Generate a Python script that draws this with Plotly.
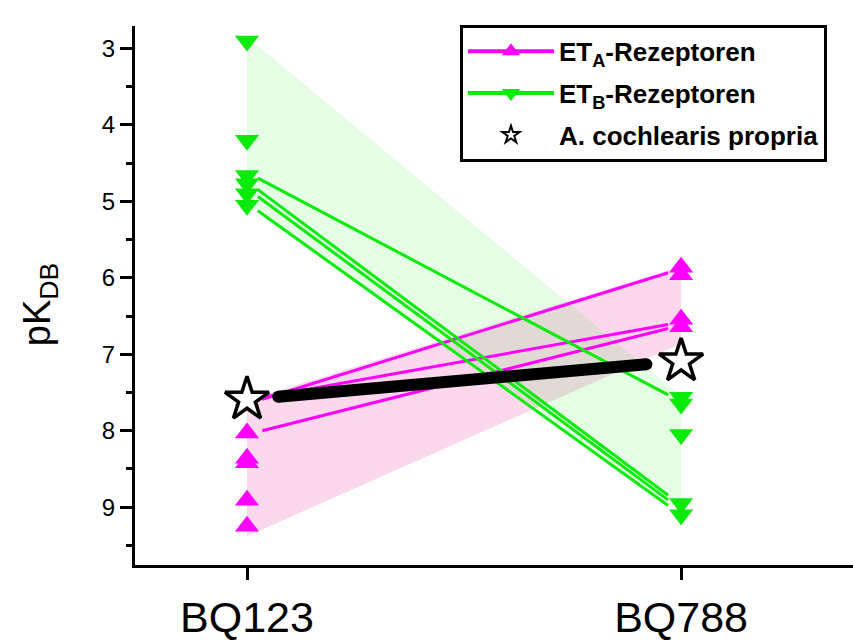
import plotly.graph_objects as go

# --- data -------------------------------------------------------------
categories = ["BQ123", "BQ788"]

# individual pK_DB values (markers)
eta_bq123 = [7.60, 8.03, 8.36, 8.42, 8.91, 9.25]
eta_bq788 = [5.86, 5.96, 6.54, 6.64]
etb_bq123 = [2.90, 4.20, 4.66, 4.77, 4.90, 5.05]
etb_bq788 = [7.56, 7.65, 8.05, 8.95, 9.10]

# paired preparations (connecting lines)
eta_pair_bq123 = [7.65, 7.60, 8.05]
eta_pair_bq788 = [5.88, 6.58, 6.62]
etb_pair_bq123 = [4.62, 4.74, 4.83, 5.02]
etb_pair_bq788 = [7.62, 8.97, 9.03, 9.10]

# shaded ranges (upper / lower edge at each antagonist)
eta_band_top = [7.60, 5.85]
eta_band_bottom = [9.38, 6.86]
etb_band_top = [2.85, 7.55]
etb_band_bottom = [5.05, 9.08]

# A. cochlearis propria
cochlearis = [7.59, 7.09]

ytick_vals = [3, 4, 5, 6, 7, 8, 9]

# --- styling ----------------------------------------------------------
MAGENTA = "rgb(255,0,255)"
GREEN = "rgb(10,235,10)"
PINK_FILL = "rgba(240,100,180,0.25)"
GREEN_FILL = "rgba(0,230,0,0.10)"
FONT = "Liberation Sans, Arial, sans-serif"

xpos = [0, 1]


def trimmed(y0, y1, t0, t1):
    """Segment between the two antagonists, shortened at both ends."""
    return [t0, t1], [y0 + (y1 - y0) * t0, y0 + (y1 - y0) * t1]


def band(top, bottom):
    return xpos + xpos[::-1], top + bottom[::-1]


fig = go.Figure()

# shaded ranges
bx, by = band(eta_band_top, eta_band_bottom)
fig.add_trace(go.Scatter(x=bx, y=by, fill="toself", fillcolor=PINK_FILL,
                         mode="none", showlegend=False, hoverinfo="skip"))
bx, by = band(etb_band_top, etb_band_bottom)
fig.add_trace(go.Scatter(x=bx, y=by, fill="toself", fillcolor=GREEN_FILL,
                         mode="none", showlegend=False, hoverinfo="skip"))

# connecting lines
for a, b in zip(eta_pair_bq123, eta_pair_bq788):
    lx, ly = trimmed(a, b, 0.035, 0.97)
    fig.add_trace(go.Scatter(x=lx, y=ly, mode="lines",
                             line=dict(color=MAGENTA, width=3),
                             showlegend=False, hoverinfo="skip"))
for a, b in zip(etb_pair_bq123, etb_pair_bq788):
    lx, ly = trimmed(a, b, 0.025, 0.97)
    fig.add_trace(go.Scatter(x=lx, y=ly, mode="lines",
                             line=dict(color=GREEN, width=3),
                             showlegend=False, hoverinfo="skip"))

# cochlearis connection (thick, rounded ends)
lx, ly = trimmed(cochlearis[0], cochlearis[1], 0.072, 0.92)
fig.add_trace(go.Scatter(x=lx, y=ly, mode="lines+markers",
                         line=dict(color="black", width=12),
                         marker=dict(symbol="circle", size=12, color="black"),
                         showlegend=False, hoverinfo="skip"))

# markers
fig.add_trace(go.Scatter(x=[0] * len(eta_bq123) + [1] * len(eta_bq788),
                         y=eta_bq123 + eta_bq788, mode="markers",
                         marker=dict(symbol="triangle-up", size=21, color=MAGENTA),
                         showlegend=False))
fig.add_trace(go.Scatter(x=[0] * len(etb_bq123) + [1] * len(etb_bq788),
                         y=etb_bq123 + etb_bq788, mode="markers",
                         marker=dict(symbol="triangle-down", size=21, color=GREEN),
                         showlegend=False))
fig.add_trace(go.Scatter(x=xpos, y=cochlearis, mode="markers",
                         marker=dict(symbol="star", size=33, color="white",
                                     line=dict(color="black", width=3.5)),
                         showlegend=False))

# legend entries
fig.add_trace(go.Scatter(x=[None], y=[None], mode="lines+markers",
                         name="<b>ET<sub>A</sub>-Rezeptoren</b>", legendgroup="a",
                         line=dict(color=MAGENTA, width=4),
                         marker=dict(symbol="triangle-up", size=18, color=MAGENTA)))
fig.add_trace(go.Scatter(x=[None], y=[None], mode="lines+markers",
                         name="<b>ET<sub>B</sub>-Rezeptoren</b>", legendgroup="b",
                         line=dict(color=GREEN, width=4),
                         marker=dict(symbol="triangle-down", size=18, color=GREEN)))
fig.add_trace(go.Scatter(x=[None], y=[None], mode="markers",
                         name="<b>A. cochlearis propria</b>", legendgroup="c",
                         marker=dict(symbol="star", size=13, color="white",
                                     line=dict(color="black", width=2))))

fig.add_annotation(text="pK<sub>DB</sub>", textangle=-90, showarrow=False,
                   xref="paper", yref="paper", x=-0.1323, y=0.482,
                   xanchor="center", yanchor="middle",
                   font=dict(family=FONT, size=38, color="black"))

fig.update_layout(
    width=853, height=641,
    margin=dict(l=135, r=0, t=26, b=65),
    paper_bgcolor="white", plot_bgcolor="white",
    font=dict(family=FONT, color="black"),
    legend=dict(x=0.4526, y=1.002, xanchor="left", yanchor="top",
                bgcolor="white", bordercolor="black", borderwidth=3,
                font=dict(family=FONT, size=26, color="black"),
                traceorder="grouped", tracegroupgap=5, itemwidth=86),
    xaxis=dict(range=[-0.258, 1.396], tickvals=xpos, ticktext=categories,
               showgrid=False, zeroline=False, showline=True, linecolor="black",
               linewidth=3, ticks="outside", ticklen=12, tickwidth=3,
               tickcolor="black", tickfont=dict(family=FONT, size=43)),
    yaxis=dict(range=[9.756, 2.705], tickvals=ytick_vals,
               showgrid=False, zeroline=False, showline=True, linecolor="black",
               linewidth=3, ticks="outside", ticklen=12, tickwidth=3,
               tickcolor="black", tickfont=dict(family=FONT, size=24),
               minor=dict(tickvals=[v + 0.5 for v in ytick_vals], ticks="outside",
                          ticklen=6, tickwidth=3, tickcolor="black")),
)

fig.write_html("out.html")
